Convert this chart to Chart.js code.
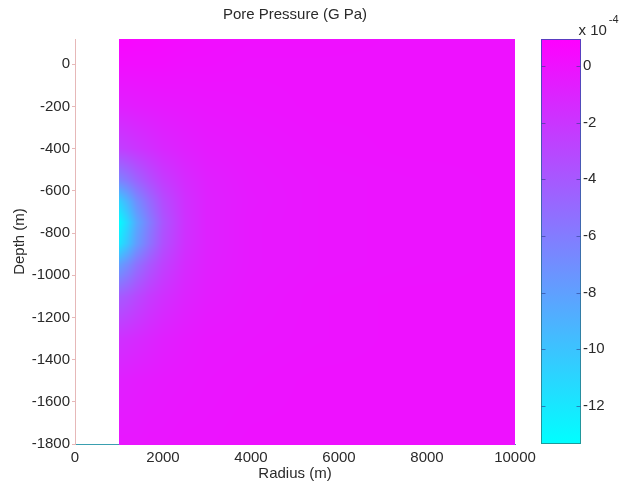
<!DOCTYPE html>
<html>
<head>
<meta charset="utf-8">
<script src="https://cdn.jsdelivr.net/npm/chart.js@4/dist/chart.umd.min.js"></script>
<style>
  html, body { margin: 0; background: #fff; }
  #caixa { width: 621px; height: 489px; }
</style>
</head>
<body>
<div id="caixa"><canvas id="grafico"></canvas></div>
<script>
// grade: raio (m) x profundidade (m), pressão em 1e-4 GPa
const raios = [1000, 1200, 1400, 1700, 2000, 2500, 3000, 4000, 5500, 7500, 10000];
const profundidades = [120, 0, -200, -400, -550, -650, -750, -850, -950, -1100, -1300, -1500, -1800];
const pressao = [
  [0.6, 0.6, 0.5, 0.5, 0.4, 0.3, 0.2, 0.1, 0.1, 0.0, 0.0],
  [0.2, 0.2, 0.2, 0.2, 0.2, 0.1, 0.1, 0.0, 0.0, 0.0, 0.0],
  [-0.8, -0.7, -0.6, -0.5, -0.4, -0.3, -0.2, -0.1, 0.0, 0.0, 0.0],
  [-2.6, -2.3, -2.0, -1.6, -1.2, -0.8, -0.5, -0.3, -0.1, 0.0, 0.0],
  [-6.5, -5.6, -4.6, -3.4, -2.4, -1.4, -0.8, -0.4, -0.2, -0.1, 0.0],
  [-10.8, -9.0, -7.0, -5.0, -3.3, -1.7, -0.9, -0.45, -0.2, -0.1, 0.0],
  [-13.2, -11.0, -8.5, -6.0, -3.8, -1.8, -0.9, -0.4, -0.2, -0.1, 0.0],
  [-12.0, -10.0, -7.8, -5.5, -3.5, -1.7, -0.9, -0.4, -0.2, -0.1, 0.0],
  [-8.0, -6.8, -5.4, -3.9, -2.7, -1.4, -0.8, -0.4, -0.2, -0.1, 0.0],
  [-4.2, -3.7, -3.1, -2.3, -1.7, -1.0, -0.6, -0.3, -0.1, 0.0, 0.0],
  [-1.8, -1.6, -1.4, -1.1, -0.8, -0.5, -0.3, -0.2, -0.1, 0.0, 0.0],
  [-0.8, -0.7, -0.6, -0.5, -0.4, -0.3, -0.2, -0.1, 0.0, 0.0, 0.0],
  [-0.3, -0.3, -0.3, -0.2, -0.2, -0.1, -0.1, 0.0, 0.0, 0.0, 0.0]
];

const ticksX = [0, 2000, 4000, 6000, 8000, 10000];
const ticksY = [0, -200, -400, -600, -800, -1000, -1200, -1400, -1600, -1800];
const ticksCor = [0, -2, -4, -6, -8, -10, -12];
const limitesCor = [-13.34, 0.95];
const titulo = 'Pore Pressure (G Pa)';

const fonte = { family: "'Liberation Sans', Arial, sans-serif", size: 15 };
const corTexto = '#2a2a2a';

function limitar(t) {
  return Math.max(0, Math.min(1, t));
}

// colormap "cool": ciano no mínimo, magenta no máximo
function corDoValor(v) {
  const t = limitar((v - limitesCor[0]) / (limitesCor[1] - limitesCor[0]));
  return [Math.round(255 * t), Math.round(255 * (1 - t)), 255];
}

function valorNaGrade(r, d) {
  let i = 0;
  while (i < raios.length - 2 && r > raios[i + 1]) i++;
  let j = 0;
  while (j < profundidades.length - 2 && d < profundidades[j + 1]) j++;
  const tx = limitar((r - raios[i]) / (raios[i + 1] - raios[i]));
  const ty = limitar((d - profundidades[j]) / (profundidades[j + 1] - profundidades[j]));
  const a = pressao[j][i] * (1 - tx) + pressao[j][i + 1] * tx;
  const b = pressao[j + 1][i] * (1 - tx) + pressao[j + 1][i + 1] * tx;
  return a * (1 - ty) + b * ty;
}

// eixos verticais sem folga extra em cima/embaixo
function larguraFixa(w) {
  return s => {
    s.width = w;
    s.paddingTop = 0;
    s.paddingBottom = 0;
  };
}

const mapaCalor = {
  id: 'mapaCalor',
  beforeDatasetsDraw(chart) {
    const { ctx, scales: { x, y } } = chart;
    const x0 = Math.round(x.getPixelForValue(raios[0]));
    const x1 = Math.round(x.getPixelForValue(raios[raios.length - 1]));
    const y0 = Math.round(y.getPixelForValue(profundidades[0]));
    const y1 = Math.round(y.getPixelForValue(profundidades[profundidades.length - 1])) + 1;
    const w = x1 - x0, h = y1 - y0;
    const off = document.createElement('canvas');
    off.width = w;
    off.height = h;
    const octx = off.getContext('2d');
    const img = octx.createImageData(w, h);
    for (let py = 0; py < h; py++) {
      const d = y.getValueForPixel(y0 + py + 0.5);
      for (let px = 0; px < w; px++) {
        const r = x.getValueForPixel(x0 + px + 0.5);
        const c = corDoValor(valorNaGrade(r, d));
        const k = (py * w + px) * 4;
        img.data[k] = c[0];
        img.data[k + 1] = c[1];
        img.data[k + 2] = c[2];
        img.data[k + 3] = 255;
      }
    }
    octx.putImageData(img, 0, 0);
    ctx.drawImage(off, x0, y0);
  }
};

const barraCor = {
  id: 'barraCor',
  afterDraw(chart) {
    const { ctx, chartArea } = chart;
    const cb = chart.scales.cb;
    const left = Math.round(cb.left) + 26.5;
    const largura = 39;
    const topo = cb.getPixelForValue(limitesCor[1]);
    const base = cb.getPixelForValue(limitesCor[0]);
    ctx.save();
    const grad = ctx.createLinearGradient(0, topo, 0, base);
    grad.addColorStop(0, 'rgb(' + corDoValor(limitesCor[1]).join(',') + ')');
    grad.addColorStop(1, 'rgb(' + corDoValor(limitesCor[0]).join(',') + ')');
    ctx.fillStyle = grad;
    ctx.fillRect(left, topo, largura, base - topo);

    const borda = ctx.createLinearGradient(0, topo, 0, base);
    borda.addColorStop(0, '#5a3cc0');
    borda.addColorStop(1, '#1f9a9a');
    ctx.strokeStyle = borda;
    ctx.lineWidth = 1;
    ctx.strokeRect(left, Math.round(topo) + 0.5, largura, Math.round(base - topo) - 1);

    ctx.beginPath();
    ticksCor.forEach(v => {
      const py = Math.round(cb.getPixelForValue(v)) + 0.5;
      ctx.moveTo(left, py);
      ctx.lineTo(left + 4, py);
      ctx.moveTo(left + largura - 4, py);
      ctx.lineTo(left + largura, py);
    });
    ctx.strokeStyle = 'rgba(40, 60, 140, 0.6)';
    ctx.stroke();

    ctx.fillStyle = corTexto;
    ctx.textBaseline = 'middle';
    ctx.textAlign = 'left';
    ctx.font = "15px 'Liberation Sans', Arial, sans-serif";
    const tx = left + 37;
    ctx.fillText('x 10', tx, chartArea.top - 8);
    const wTexto = ctx.measureText('x 10').width;
    ctx.font = "11px 'Liberation Sans', Arial, sans-serif";
    ctx.fillText('-4', tx + wTexto + 2, chartArea.top - 19);

    // título centrado sobre a área do gráfico
    ctx.font = "15px 'Liberation Sans', Arial, sans-serif";
    ctx.textAlign = 'center';
    ctx.fillText(titulo, (chartArea.left + chartArea.right) / 2, 15);
    ctx.restore();
  }
};

new Chart(document.getElementById('grafico'), {
  type: 'scatter',
  data: { datasets: [{ data: [] }] },
  options: {
    responsive: true,
    maintainAspectRatio: false,
    animation: false,
    layout: { padding: { top: 39, left: 0, right: 0, bottom: 0 } },
    plugins: {
      legend: { display: false },
      tooltip: { enabled: false },
      title: { display: false }
    },
    scales: {
      x: {
        type: 'linear',
        min: 0,
        max: 10000,
        afterBuildTicks: s => { s.ticks = ticksX.map(v => ({ value: v })); },
        afterFit: s => { s.height = 45; s.paddingLeft = 0; s.paddingRight = 0; },
        grid: { display: false, drawTicks: false },
        border: { display: true, color: '#3a9fb0' },
        ticks: { color: corTexto, font: fonte, padding: 5, maxRotation: 0, callback: v => String(v) },
        title: { display: true, text: 'Radius (m)', color: corTexto, font: fonte, padding: { bottom: 6 } }
      },
      y: {
        type: 'linear',
        min: -1800,
        max: 120,
        afterBuildTicks: s => { s.ticks = ticksY.map(v => ({ value: v })); },
        afterFit: larguraFixa(75),
        grid: { display: true, drawOnChartArea: false, drawTicks: true, tickLength: 3, color: '#e6b8b8' },
        border: { display: true, color: '#e6b8b8' },
        ticks: { color: corTexto, font: fonte, padding: 2, callback: v => String(v) },
        title: { display: true, text: 'Depth (m)', color: corTexto, font: fonte, padding: { top: 11 } }
      },
      cb: {
        type: 'linear',
        position: 'right',
        min: limitesCor[0],
        max: limitesCor[1],
        afterBuildTicks: s => { s.ticks = ticksCor.map(v => ({ value: v })); },
        afterFit: larguraFixa(106),
        grid: { display: false, drawTicks: false },
        border: { display: false },
        ticks: { color: corTexto, font: fonte, padding: 68, callback: v => String(v) }
      }
    }
  },
  plugins: [mapaCalor, barraCor]
});
</script>
</body>
</html>
